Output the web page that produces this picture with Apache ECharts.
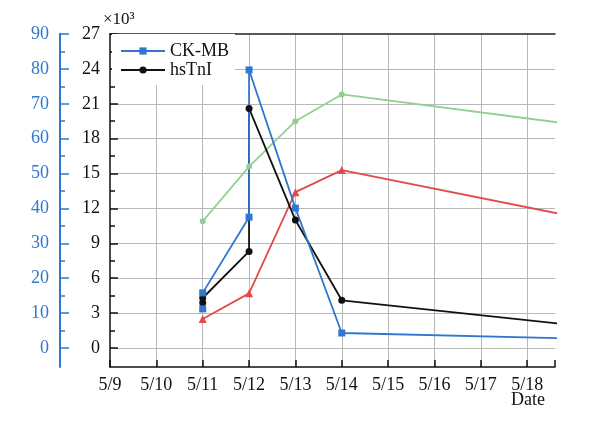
<!DOCTYPE html>
<html>
<head>
<meta charset="utf-8">
<script src="https://cdn.jsdelivr.net/npm/echarts@6/dist/echarts.min.js"></script>
</head>
<body style="margin:0;background:#fff">
<div id="main" style="width:600px;height:421px;"></div>
<script type="text/javascript">
    // days of May; the last point lies past the right edge and gets clipped
    var ckmbData = [[11, 11.2], [11, 15.8], [12, 37.5], [12, 79.7], [13, 40.1], [14, 4.3], [21, 2.1]];
    var hstniData = [[11, 3.9], [11, 4.3], [12, 8.3], [12, 20.6], [13, 11.0], [14, 4.1], [21, 1.1]];
    var greenData = [[11, 10.9], [12, 15.6], [13, 19.5], [14, 21.8], [21, 18.2]];
    var redData = [[11, 2.5], [12, 4.7], [13, 13.4], [14, 15.3], [21, 9.7]];

    var legendNames = ['CK-MB', 'hsTnI'];
    var dayMin = 9, dayMax = 18.6;

    var serif = 'Liberation Serif';
    var blue = '#2f77d0';
    var gridColor = '#b8b8b8';

    var myChart = echarts.init(document.getElementById('main'));

    var option = {
        animation: false,
        backgroundColor: '#fff',
        textStyle: {fontFamily: serif},
        grid: [
            {left: 110, right: 45, top: 34, height: 314},
            {left: 110, right: 45, top: 34, bottom: 54}
        ],
        legend: {
            data: legendNames,
            orient: 'vertical',
            left: 112,
            top: 34,
            padding: [8, 6, 6, 8],
            backgroundColor: '#fff',
            itemWidth: 44,
            itemHeight: 9,
            itemGap: 1,
            textStyle: {fontFamily: serif, fontSize: 18, color: '#111', lineHeight: 18}
        },
        xAxis: [
            {gridIndex: 0, type: 'value', min: dayMin, max: dayMax, show: false},
            {
                gridIndex: 1, type: 'value', min: dayMin, max: dayMax, interval: 1, position: 'bottom',
                axisLine: {onZero: false, lineStyle: {color: '#111', width: 1.5}},
                axisTick: {inside: true, length: 7, lineStyle: {color: '#111', width: 1.5}},
                axisLabel: {
                    margin: 9, fontFamily: serif, fontSize: 18, color: '#111', showMaxLabel: true,
                    formatter: function (v) { return Number.isInteger(v) ? '5/' + v : ''; }
                },
                splitLine: {show: true, showMinLine: false, showMaxLine: false, lineStyle: {color: gridColor, width: 1}}
            },
            {
                gridIndex: 1, type: 'value', min: dayMin, max: dayMax, position: 'top',
                axisLine: {onZero: false, lineStyle: {color: '#222', width: 1.5}},
                axisTick: {show: false}, axisLabel: {show: false}, splitLine: {show: false}
            }
        ],
        yAxis: [
            {
                gridIndex: 0, type: 'value', min: 0, max: 27, interval: 3, position: 'left',
                axisLine: {show: false},
                axisTick: {show: true, inside: true, length: 8, lineStyle: {color: '#111', width: 1.5}},
                minorTick: {show: true, splitNumber: 2, length: 5, lineStyle: {color: '#111', width: 1.5}},
                axisLabel: {margin: 10, fontFamily: serif, fontSize: 18, color: '#111'},
                splitLine: {show: true, showMaxLine: false, lineStyle: {color: gridColor, width: 1}}
            },
            {
                gridIndex: 0, type: 'value', min: 0, max: 90, interval: 10, position: 'left', offset: 50,
                axisLine: {show: true, onZero: false, lineStyle: {color: blue, width: 2}},
                axisTick: {show: true, inside: true, length: 9, lineStyle: {color: blue, width: 1.5}},
                minorTick: {show: true, splitNumber: 2, length: 5, lineStyle: {color: blue, width: 1.5}},
                axisLabel: {margin: 11, fontFamily: serif, fontSize: 18, color: blue},
                splitLine: {show: false}
            },
            {
                gridIndex: 1, type: 'value', min: 0, max: 1, position: 'left',
                axisLine: {show: true, onZero: false, lineStyle: {color: '#111', width: 1.5}},
                axisTick: {show: false}, axisLabel: {show: false}, splitLine: {show: false}
            },
            {
                gridIndex: 1, type: 'value', min: 0, max: 1, position: 'left', offset: 50,
                axisLine: {show: true, onZero: false, lineStyle: {color: blue, width: 2}},
                axisTick: {show: false}, axisLabel: {show: false}, splitLine: {show: false}
            }
        ],
        graphic: [
            {type: 'text', left: 103, top: 11, style: {text: '×10³', font: '17px "Liberation Serif"', fill: '#111'}},
            {type: 'text', left: 511, top: 391, style: {text: 'Date', font: '18px "Liberation Serif"', fill: '#111'}}
        ],
        series: [
            {
                name: 'green', type: 'line', xAxisIndex: 0, yAxisIndex: 0, data: greenData,
                symbol: 'circle', symbolSize: 6, showAllSymbol: true,
                itemStyle: {color: '#92d092'}, lineStyle: {color: '#92d092', width: 1.8}
            },
            {
                name: 'red', type: 'line', xAxisIndex: 0, yAxisIndex: 0, data: redData,
                symbol: 'triangle', symbolSize: 8, showAllSymbol: true,
                itemStyle: {color: '#e24a4a'}, lineStyle: {color: '#e24a4a', width: 1.8}
            },
            {
                name: 'hsTnI', type: 'line', xAxisIndex: 0, yAxisIndex: 0, data: hstniData,
                symbol: 'circle', symbolSize: 7, showAllSymbol: true,
                itemStyle: {color: '#111'}, lineStyle: {color: '#111', width: 1.8}
            },
            {
                name: 'CK-MB', type: 'line', xAxisIndex: 0, yAxisIndex: 1, data: ckmbData,
                symbol: 'rect', symbolSize: 7, showAllSymbol: true,
                itemStyle: {color: blue}, lineStyle: {color: blue, width: 1.8}
            }
        ]
    };

    myChart.setOption(option);
</script>
</body>
</html>
